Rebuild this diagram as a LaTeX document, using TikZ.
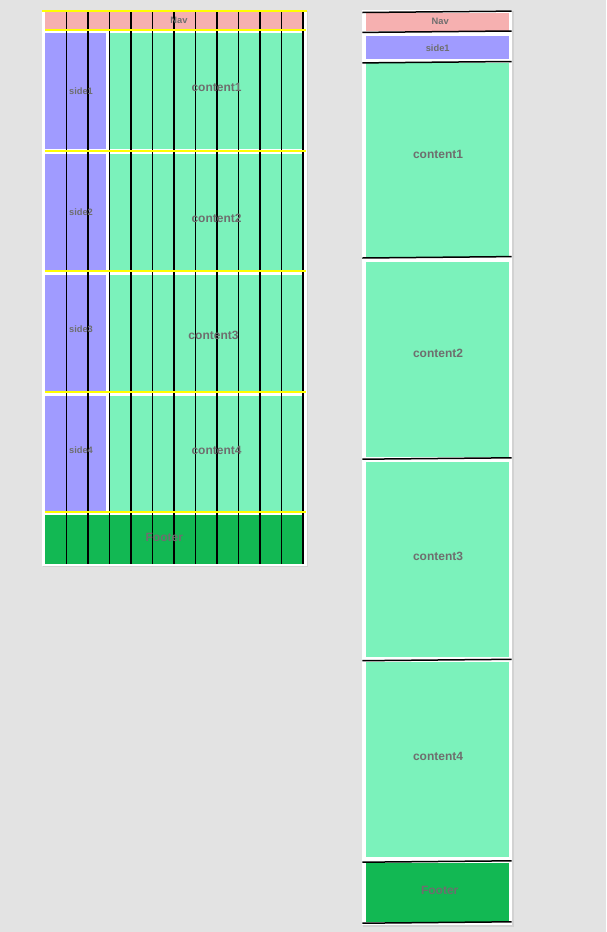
\documentclass[tikz,border=0pt]{standalone}
\usepackage{fontspec}
\setmainfont{Liberation Sans}
\definecolor{bgc}{HTML}{E3E3E3}
\definecolor{navc}{HTML}{F6B0B0}
\definecolor{sidec}{HTML}{A09BFF}
\definecolor{contc}{HTML}{7BF2BB}
\definecolor{footc}{HTML}{12B853}
\definecolor{txtc}{HTML}{6E6E6E}
\definecolor{ylwc}{HTML}{FFFF00}
\definecolor{shadowc}{HTML}{D2D2D2}
\begin{document}
\begin{tikzpicture}[x=1pt,y=-1pt,
  lblsmall/.style={font=\bfseries\fontsize{9.3}{10}\selectfont, text=txtc, inner sep=0pt},
  lblbig/.style={font=\bfseries\fontsize{12}{13}\selectfont, text=txtc, inner sep=0pt},
  colline/.style={black, line width=1.1pt},
  yline/.style={ylwc, line width=2pt},
  rowline/.style={black, line width=1.5pt}]
\fill[bgc] (0,0) rectangle (606,932);
\useasboundingbox (0,0) rectangle (606,932);

% ---------- left panel ----------
\fill[shadowc] (43,11) rectangle (308,567);
\fill[white] (42,10) rectangle (306.5,565.7);
\fill[navc] (45,12.3) rectangle (303,29.3);
\foreach \t/\b in {32.7/149.3, 154/270, 275/391.3, 395.5/511}{
  \fill[sidec] (45,\t) rectangle (106.3,\b);
  \fill[contc] (109.3,\t) rectangle (303,\b);
}
\fill[footc] (45,515) rectangle (303,564.3);
\foreach \k in {1,...,12}{
  \draw[colline] ({45+21.5*\k},11) -- ({45+21.5*\k},564.3);
}
\draw[yline] (42,11.3) -- (306.5,11.3);
\foreach \y in {30.1,150.5,271.3,392.4,512}{
  \draw[yline] (45,\y) -- (305.6,\y);
}
\node[lblsmall] (lnav) at (179,20.5) {Nav};
\node[lblsmall] (lside1) at (81,91) {side1};
\node[lblsmall] (lside2) at (81,212) {side2};
\node[lblsmall] (lside3) at (81,329) {side3};
\node[lblsmall] (lside4) at (81,450) {side4};
\node[lblbig] (lcont1) at (216.5,87) {content1};
\node[lblbig] (lcont2) at (216.5,218) {content2};
\node[lblbig] (lcont3) at (213.5,335) {content3};
\node[lblbig] (lcont4) at (216.5,450) {content4};
\node[lblbig] (lfoot) at (164.3,537.5) {Footer};

% ---------- right panel ----------
\fill[shadowc] (363,11) rectangle (514,926.5);
\fill[white] (362.3,10) rectangle (512.3,925);
\fill[navc] (366,13) rectangle (509,30.7);
\fill[sidec] (366,36) rectangle (509,58.7);
\fill[contc] (366,63.3) rectangle (509,256.7);
\fill[contc] (366,261.7) rectangle (509,457.3);
\fill[contc] (366,461.7) rectangle (509,657);
\fill[contc] (366,661.7) rectangle (509,857);
\fill[footc] (366,862.5) rectangle (509,921.7);
\foreach \y in {11.8,31.7,62.2,257.3,458.5,660,861.5,922.5}{
  \draw[rowline] (362.3,{\y+0.7}) -- (511.7,{\y-0.7});
}
\node[lblsmall] (rnav) at (440.2,21) {Nav};
\node[lblsmall] (rside1) at (437.7,48.5) {side1};
\node[lblbig] (rcont1) at (438,154) {content1};
\node[lblbig] (rcont2) at (438,353) {content2};
\node[lblbig] (rcont3) at (438,556) {content3};
\node[lblbig] (rcont4) at (438,756) {content4};
\node[lblbig] (rfoot) at (439.7,890) {Footer};
\end{tikzpicture}
\end{document}
